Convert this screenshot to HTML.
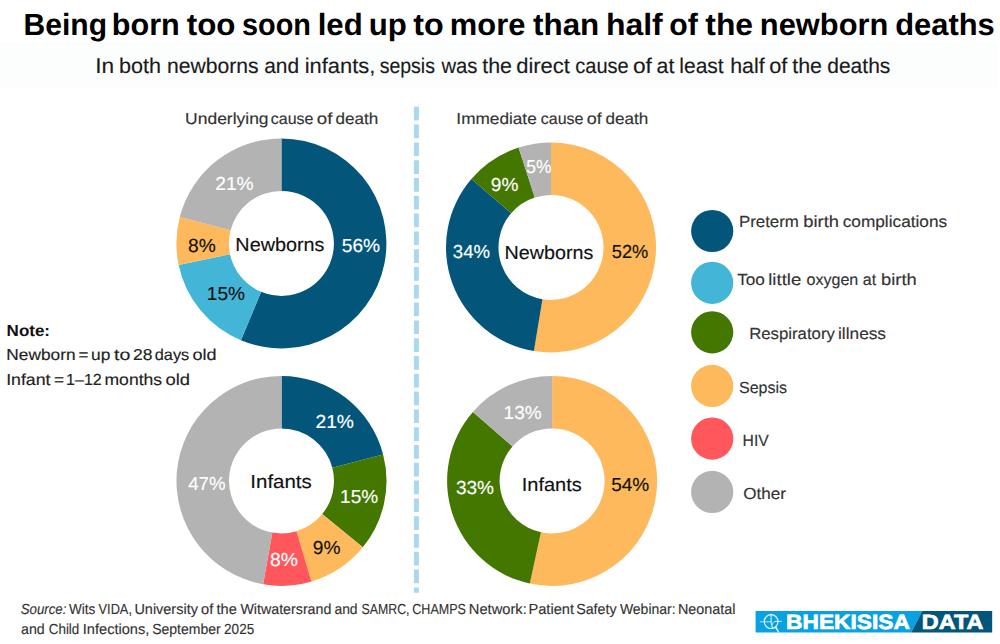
<!DOCTYPE html><html><head><meta charset="utf-8"><style>html,body{margin:0;padding:0;background:#fff;}svg{display:block;}</style></head><body>
<svg width="1000" height="644" viewBox="0 0 1000 644" style="font-family:'Liberation Sans', sans-serif;text-rendering:geometricPrecision">
<rect x="0" y="0" width="1000" height="644" fill="#ffffff"/>
<rect x="0" y="42" width="998" height="45" fill="#fcfdfd"/>
<line x1="416.4" y1="106.8" x2="416.4" y2="592.8" stroke="#a9d9ea" stroke-width="5" stroke-dasharray="13.7 4.1"/>
<path d="M281.40,138.40 A105.0,105.0 0 1 1 240.91,340.28 L261.16,291.84 A52.5,52.5 0 1 0 281.40,190.90 Z" fill="#03567a"/>
<path d="M240.91,340.28 A105.0,105.0 0 0 1 178.65,265.02 L230.02,254.21 A52.5,52.5 0 0 0 261.16,291.84 Z" fill="#43b6d7"/>
<path d="M178.65,265.02 A105.0,105.0 0 0 1 179.80,216.90 L230.60,230.15 A52.5,52.5 0 0 0 230.02,254.21 Z" fill="#fdb95b"/>
<path d="M179.80,216.90 A105.0,105.0 0 0 1 281.40,138.40 L281.40,190.90 A52.5,52.5 0 0 0 230.60,230.15 Z" fill="#b3b3b3"/>
<path d="M551.00,142.40 A105.0,105.0 0 1 1 533.92,351.00 L542.46,299.20 A52.5,52.5 0 1 0 551.00,194.90 Z" fill="#fdb95b"/>
<path d="M533.92,351.00 A105.0,105.0 0 0 1 471.37,178.96 L511.19,213.18 A52.5,52.5 0 0 0 542.46,299.20 Z" fill="#03567a"/>
<path d="M471.37,178.96 A105.0,105.0 0 0 1 518.55,147.54 L534.78,197.47 A52.5,52.5 0 0 0 511.19,213.18 Z" fill="#437700"/>
<path d="M518.55,147.54 A105.0,105.0 0 0 1 551.00,142.40 L551.00,194.90 A52.5,52.5 0 0 0 534.78,197.47 Z" fill="#b3b3b3"/>
<path d="M281.50,375.90 A105.0,105.0 0 0 1 383.14,454.53 L332.32,467.72 A52.5,52.5 0 0 0 281.50,428.40 Z" fill="#03567a"/>
<path d="M383.14,454.53 A105.0,105.0 0 0 1 362.82,547.32 L322.16,514.11 A52.5,52.5 0 0 0 332.32,467.72 Z" fill="#437700"/>
<path d="M362.82,547.32 A105.0,105.0 0 0 1 311.43,581.54 L296.46,531.22 A52.5,52.5 0 0 0 322.16,514.11 Z" fill="#fdb95b"/>
<path d="M311.43,581.54 A105.0,105.0 0 0 1 263.12,584.28 L272.31,532.59 A52.5,52.5 0 0 0 296.46,531.22 Z" fill="#ff575b"/>
<path d="M263.12,584.28 A105.0,105.0 0 0 1 281.50,375.90 L281.50,428.40 A52.5,52.5 0 0 0 272.31,532.59 Z" fill="#b3b3b3"/>
<path d="M552.10,375.90 A105.0,105.0 0 1 1 529.84,583.51 L540.97,532.21 A52.5,52.5 0 1 0 552.10,428.40 Z" fill="#fdb95b"/>
<path d="M529.84,583.51 A105.0,105.0 0 0 1 472.90,411.96 L512.50,446.43 A52.5,52.5 0 0 0 540.97,532.21 Z" fill="#437700"/>
<path d="M472.90,411.96 A105.0,105.0 0 0 1 552.10,375.90 L552.10,428.40 A52.5,52.5 0 0 0 512.50,446.43 Z" fill="#b3b3b3"/>
<circle cx="712.2" cy="231.0" r="21.1" fill="#03567a"/>
<circle cx="712.2" cy="282.85" r="21.1" fill="#43b6d7"/>
<circle cx="712.2" cy="332.3" r="21.1" fill="#437700"/>
<circle cx="712.2" cy="385.9" r="21.1" fill="#fdb95b"/>
<circle cx="712.2" cy="438.6" r="21.1" fill="#ff575b"/>
<circle cx="712.2" cy="491.9" r="21.1" fill="#b3b3b3"/>
<polygon points="755.6,611 922.3,611 911.2,632.5 755.6,632.5" fill="#08a1e2"/>
<polygon points="922.3,611 992.2,611 992.2,632.5 911.2,632.5" fill="#03567a"/>
<g fill="none" stroke="#ffffff" stroke-linecap="round">
<circle cx="771.1" cy="621.6" r="6.9" stroke-width="1.15" stroke-opacity="0.9"/>
<line x1="760.2" y1="621.8" x2="771" y2="621.8" stroke-width="1.0" stroke-opacity="0.7"/>
<line x1="776" y1="621.4" x2="781.7" y2="621.4" stroke-width="1.0" stroke-opacity="0.7"/>
<path d="M771.1,614.4 L771.1,622 C771.2,624.5 772.2,625 772.4,628.4" stroke-width="1.1" stroke-opacity="0.8"/>
<path d="M772.2,624.6 C772.6,622.2 774,621.4 776,621.4" stroke-width="1.0" stroke-opacity="0.7"/>
</g>
<polygon points="774.6,627.2 776.4,626.6 779.4,632.5 778.2,632.5" fill="#ffffff"/>

<text id="note" x="6.61" y="336.00" font-size="15.99" font-weight="bold" fill="#111111" style="" textLength="43.40" lengthAdjust="spacingAndGlyphs">Note:</text>
<text id="leg4" x="739.05" y="392.50" font-size="16.13" font-weight="normal" fill="#333333" stroke="#333333" stroke-width="0.15" style="" textLength="47.97" lengthAdjust="spacingAndGlyphs">Sepsis</text>
<text id="leg5" x="742.62" y="445.80" font-size="16.13" font-weight="normal" fill="#333333" stroke="#333333" stroke-width="0.15" style="" textLength="26.25" lengthAdjust="spacingAndGlyphs">HIV</text>
<text id="leg6" x="743.25" y="498.70" font-size="16.13" font-weight="normal" fill="#333333" stroke="#333333" stroke-width="0.15" style="" textLength="42.77" lengthAdjust="spacingAndGlyphs">Other</text>
<text id="d1a" x="341.81" y="252.00" font-size="18.90" font-weight="normal" fill="#ffffff" stroke="#ffffff" stroke-width="0.15" style="" textLength="38.37" lengthAdjust="spacingAndGlyphs">56%</text>
<text id="d1b" x="215.24" y="189.70" font-size="18.90" font-weight="normal" fill="#ffffff" stroke="#ffffff" stroke-width="0.15" style="" textLength="38.40" lengthAdjust="spacingAndGlyphs">21%</text>
<text id="d1c" x="188.11" y="251.90" font-size="18.90" font-weight="normal" fill="#111111" stroke="#111111" stroke-width="0.15" style="" textLength="27.72" lengthAdjust="spacingAndGlyphs">8%</text>
<text id="d1d" x="206.86" y="299.50" font-size="18.90" font-weight="normal" fill="#111111" stroke="#111111" stroke-width="0.15" style="" textLength="38.22" lengthAdjust="spacingAndGlyphs">15%</text>
<text id="d1n" x="235.37" y="251.00" font-size="18.90" font-weight="normal" fill="#111111" stroke="#111111" stroke-width="0.15" style="" textLength="89.15" lengthAdjust="spacingAndGlyphs">Newborns</text>
<text id="d2a" x="526.21" y="173.00" font-size="18.90" font-weight="normal" fill="#ffffff" stroke="#ffffff" stroke-width="0.15" style="" textLength="25.21" lengthAdjust="spacingAndGlyphs">5%</text>
<text id="d2b" x="490.88" y="190.60" font-size="18.90" font-weight="normal" fill="#ffffff" stroke="#ffffff" stroke-width="0.15" style="" textLength="27.61" lengthAdjust="spacingAndGlyphs">9%</text>
<text id="d2c" x="452.80" y="257.70" font-size="18.90" font-weight="normal" fill="#ffffff" stroke="#ffffff" stroke-width="0.15" style="" textLength="37.23" lengthAdjust="spacingAndGlyphs">34%</text>
<text id="d2n" x="504.54" y="258.80" font-size="18.90" font-weight="normal" fill="#111111" stroke="#111111" stroke-width="0.15" style="" textLength="88.75" lengthAdjust="spacingAndGlyphs">Newborns</text>
<text id="d2d" x="611.84" y="257.70" font-size="18.90" font-weight="normal" fill="#111111" stroke="#111111" stroke-width="0.15" style="" textLength="36.48" lengthAdjust="spacingAndGlyphs">52%</text>
<text id="d3a" x="315.43" y="428.00" font-size="18.90" font-weight="normal" fill="#ffffff" stroke="#ffffff" stroke-width="0.15" style="" textLength="38.53" lengthAdjust="spacingAndGlyphs">21%</text>
<text id="d3b" x="188.15" y="490.00" font-size="18.90" font-weight="normal" fill="#ffffff" stroke="#ffffff" stroke-width="0.15" style="" textLength="37.38" lengthAdjust="spacingAndGlyphs">47%</text>
<text id="d3n" x="250.32" y="488.00" font-size="18.90" font-weight="normal" fill="#111111" stroke="#111111" stroke-width="0.15" style="" textLength="61.47" lengthAdjust="spacingAndGlyphs">Infants</text>
<text id="d3c" x="340.13" y="502.60" font-size="18.90" font-weight="normal" fill="#ffffff" stroke="#ffffff" stroke-width="0.15" style="" textLength="38.03" lengthAdjust="spacingAndGlyphs">15%</text>
<text id="d3d" x="312.83" y="553.90" font-size="18.90" font-weight="normal" fill="#111111" stroke="#111111" stroke-width="0.15" style="" textLength="27.72" lengthAdjust="spacingAndGlyphs">9%</text>
<text id="d3e" x="270.10" y="565.70" font-size="18.90" font-weight="normal" fill="#ffffff" stroke="#ffffff" stroke-width="0.15" style="" textLength="27.95" lengthAdjust="spacingAndGlyphs">8%</text>
<text id="d4a" x="503.63" y="419.10" font-size="18.90" font-weight="normal" fill="#ffffff" stroke="#ffffff" stroke-width="0.15" style="" textLength="37.91" lengthAdjust="spacingAndGlyphs">13%</text>
<text id="d4b" x="455.91" y="493.50" font-size="18.90" font-weight="normal" fill="#ffffff" stroke="#ffffff" stroke-width="0.15" style="" textLength="38.12" lengthAdjust="spacingAndGlyphs">33%</text>
<text id="d4n" x="521.70" y="491.20" font-size="18.90" font-weight="normal" fill="#111111" stroke="#111111" stroke-width="0.15" style="" textLength="60.10" lengthAdjust="spacingAndGlyphs">Infants</text>
<text id="d4c" x="611.15" y="491.20" font-size="18.90" font-weight="normal" fill="#111111" stroke="#111111" stroke-width="0.15" style="" textLength="38.11" lengthAdjust="spacingAndGlyphs">54%</text>
<text id="logo1" x="786.07" y="629.25" font-size="20.64" font-weight="bold" fill="#ffffff" stroke="#ffffff" stroke-width="0.7" style="" textLength="123.90" lengthAdjust="spacingAndGlyphs">BHEKISISA</text>
<text id="logo2" x="921.89" y="629.25" font-size="20.64" font-weight="bold" fill="#ffffff" stroke="#ffffff" stroke-width="0.7" style="" textLength="61.48" lengthAdjust="spacingAndGlyphs">DATA</text>
<text id="title_0" x="23.58" y="35.10" font-size="30.67" font-weight="bold" fill="#000000" style="" textLength="83.49" lengthAdjust="spacingAndGlyphs">Being</text>
<text id="title_1" x="111.81" y="35.10" font-size="30.67" font-weight="bold" fill="#000000" style="" textLength="68.00" lengthAdjust="spacingAndGlyphs">born</text>
<text id="title_2" x="186.74" y="35.10" font-size="30.67" font-weight="bold" fill="#000000" style="" textLength="48.75" lengthAdjust="spacingAndGlyphs">too</text>
<text id="title_3" x="242.06" y="35.10" font-size="30.67" font-weight="bold" fill="#000000" style="" textLength="68.95" lengthAdjust="spacingAndGlyphs">soon</text>
<text id="title_4" x="317.71" y="35.10" font-size="30.67" font-weight="bold" fill="#000000" style="" textLength="44.98" lengthAdjust="spacingAndGlyphs">led</text>
<text id="title_5" x="368.65" y="35.10" font-size="30.67" font-weight="bold" fill="#000000" style="" textLength="38.15" lengthAdjust="spacingAndGlyphs">up</text>
<text id="title_6" x="413.31" y="35.10" font-size="30.67" font-weight="bold" fill="#000000" style="" textLength="30.47" lengthAdjust="spacingAndGlyphs">to</text>
<text id="title_7" x="449.88" y="35.10" font-size="30.67" font-weight="bold" fill="#000000" style="" textLength="75.51" lengthAdjust="spacingAndGlyphs">more</text>
<text id="title_8" x="533.05" y="35.10" font-size="30.67" font-weight="bold" fill="#000000" style="" textLength="66.22" lengthAdjust="spacingAndGlyphs">than</text>
<text id="title_9" x="605.95" y="35.10" font-size="30.67" font-weight="bold" fill="#000000" style="" textLength="56.82" lengthAdjust="spacingAndGlyphs">half</text>
<text id="title_10" x="669.34" y="35.10" font-size="30.67" font-weight="bold" fill="#000000" style="" textLength="28.52" lengthAdjust="spacingAndGlyphs">of</text>
<text id="title_11" x="705.29" y="35.10" font-size="30.67" font-weight="bold" fill="#000000" style="" textLength="47.73" lengthAdjust="spacingAndGlyphs">the</text>
<text id="title_12" x="759.89" y="35.10" font-size="30.67" font-weight="bold" fill="#000000" style="" textLength="128.50" lengthAdjust="spacingAndGlyphs">newborn</text>
<text id="title_13" x="895.19" y="35.10" font-size="30.67" font-weight="bold" fill="#000000" style="" textLength="99.58" lengthAdjust="spacingAndGlyphs">deaths</text>
<text id="sub_0" x="95.29" y="72.80" font-size="21.37" font-weight="normal" fill="#1a1a1a" stroke="#1a1a1a" stroke-width="0.15" style="" textLength="18.94" lengthAdjust="spacingAndGlyphs">In</text>
<text id="sub_1" x="118.92" y="72.80" font-size="21.37" font-weight="normal" fill="#1a1a1a" stroke="#1a1a1a" stroke-width="0.15" style="" textLength="42.07" lengthAdjust="spacingAndGlyphs">both</text>
<text id="sub_2" x="167.07" y="72.80" font-size="21.37" font-weight="normal" fill="#1a1a1a" stroke="#1a1a1a" stroke-width="0.15" style="" textLength="91.62" lengthAdjust="spacingAndGlyphs">newborns</text>
<text id="sub_3" x="264.21" y="72.80" font-size="21.37" font-weight="normal" fill="#1a1a1a" stroke="#1a1a1a" stroke-width="0.15" style="" textLength="34.93" lengthAdjust="spacingAndGlyphs">and</text>
<text id="sub_4" x="304.73" y="72.80" font-size="21.37" font-weight="normal" fill="#1a1a1a" stroke="#1a1a1a" stroke-width="0.15" style="" textLength="70.65" lengthAdjust="spacingAndGlyphs">infants,</text>
<text id="sub_5" x="379.64" y="72.80" font-size="21.37" font-weight="normal" fill="#1a1a1a" stroke="#1a1a1a" stroke-width="0.15" style="" textLength="55.35" lengthAdjust="spacingAndGlyphs">sepsis</text>
<text id="sub_6" x="441.41" y="72.80" font-size="21.37" font-weight="normal" fill="#1a1a1a" stroke="#1a1a1a" stroke-width="0.15" style="" textLength="36.04" lengthAdjust="spacingAndGlyphs">was</text>
<text id="sub_7" x="482.21" y="72.80" font-size="21.37" font-weight="normal" fill="#1a1a1a" stroke="#1a1a1a" stroke-width="0.15" style="" textLength="29.79" lengthAdjust="spacingAndGlyphs">the</text>
<text id="sub_8" x="516.17" y="72.80" font-size="21.37" font-weight="normal" fill="#1a1a1a" stroke="#1a1a1a" stroke-width="0.15" style="" textLength="53.78" lengthAdjust="spacingAndGlyphs">direct</text>
<text id="sub_9" x="575.30" y="72.80" font-size="21.37" font-weight="normal" fill="#1a1a1a" stroke="#1a1a1a" stroke-width="0.15" style="" textLength="53.47" lengthAdjust="spacingAndGlyphs">cause</text>
<text id="sub_10" x="632.93" y="72.80" font-size="21.37" font-weight="normal" fill="#1a1a1a" stroke="#1a1a1a" stroke-width="0.15" style="" textLength="18.97" lengthAdjust="spacingAndGlyphs">of</text>
<text id="sub_11" x="656.55" y="72.80" font-size="21.37" font-weight="normal" fill="#1a1a1a" stroke="#1a1a1a" stroke-width="0.15" style="" textLength="17.82" lengthAdjust="spacingAndGlyphs">at</text>
<text id="sub_12" x="679.27" y="72.80" font-size="21.37" font-weight="normal" fill="#1a1a1a" stroke="#1a1a1a" stroke-width="0.15" style="" textLength="44.45" lengthAdjust="spacingAndGlyphs">least</text>
<text id="sub_13" x="730.14" y="72.80" font-size="21.37" font-weight="normal" fill="#1a1a1a" stroke="#1a1a1a" stroke-width="0.15" style="" textLength="34.45" lengthAdjust="spacingAndGlyphs">half</text>
<text id="sub_14" x="769.21" y="72.80" font-size="21.37" font-weight="normal" fill="#1a1a1a" stroke="#1a1a1a" stroke-width="0.15" style="" textLength="18.16" lengthAdjust="spacingAndGlyphs">of</text>
<text id="sub_15" x="792.21" y="72.80" font-size="21.37" font-weight="normal" fill="#1a1a1a" stroke="#1a1a1a" stroke-width="0.15" style="" textLength="29.79" lengthAdjust="spacingAndGlyphs">the</text>
<text id="sub_16" x="827.25" y="72.80" font-size="21.37" font-weight="normal" fill="#1a1a1a" stroke="#1a1a1a" stroke-width="0.15" style="" textLength="63.10" lengthAdjust="spacingAndGlyphs">deaths</text>
<text id="hdr1_0" x="185.12" y="123.80" font-size="15.99" font-weight="normal" fill="#333333" stroke="#333333" stroke-width="0.15" style="" textLength="83.49" lengthAdjust="spacingAndGlyphs">Underlying</text>
<text id="hdr1_1" x="270.84" y="123.80" font-size="15.99" font-weight="normal" fill="#333333" stroke="#333333" stroke-width="0.15" style="" textLength="42.56" lengthAdjust="spacingAndGlyphs">cause</text>
<text id="hdr1_2" x="316.78" y="123.80" font-size="15.99" font-weight="normal" fill="#333333" stroke="#333333" stroke-width="0.15" style="" textLength="15.58" lengthAdjust="spacingAndGlyphs">of</text>
<text id="hdr1_3" x="335.59" y="123.80" font-size="15.99" font-weight="normal" fill="#333333" stroke="#333333" stroke-width="0.15" style="" textLength="42.79" lengthAdjust="spacingAndGlyphs">death</text>
<text id="hdr2_0" x="456.37" y="123.80" font-size="15.99" font-weight="normal" fill="#333333" stroke="#333333" stroke-width="0.15" style="" textLength="80.37" lengthAdjust="spacingAndGlyphs">Immediate</text>
<text id="hdr2_1" x="540.78" y="123.80" font-size="15.99" font-weight="normal" fill="#333333" stroke="#333333" stroke-width="0.15" style="" textLength="42.60" lengthAdjust="spacingAndGlyphs">cause</text>
<text id="hdr2_2" x="586.80" y="123.80" font-size="15.99" font-weight="normal" fill="#333333" stroke="#333333" stroke-width="0.15" style="" textLength="15.01" lengthAdjust="spacingAndGlyphs">of</text>
<text id="hdr2_3" x="605.59" y="123.80" font-size="15.99" font-weight="normal" fill="#333333" stroke="#333333" stroke-width="0.15" style="" textLength="42.79" lengthAdjust="spacingAndGlyphs">death</text>
<text id="note1_0" x="6.39" y="359.80" font-size="15.84" font-weight="normal" fill="#222222" stroke="#222222" stroke-width="0.15" style="" textLength="69.12" lengthAdjust="spacingAndGlyphs">Newborn</text>
<text id="note1_1" x="78.54" y="359.80" font-size="15.84" font-weight="normal" fill="#222222" stroke="#222222" stroke-width="0.15" style="" textLength="9.96" lengthAdjust="spacingAndGlyphs">=</text>
<text id="note1_2" x="91.01" y="359.80" font-size="15.84" font-weight="normal" fill="#222222" stroke="#222222" stroke-width="0.15" style="" textLength="19.31" lengthAdjust="spacingAndGlyphs">up</text>
<text id="note1_3" x="114.08" y="359.80" font-size="15.84" font-weight="normal" fill="#222222" stroke="#222222" stroke-width="0.15" style="" textLength="16.29" lengthAdjust="spacingAndGlyphs">to</text>
<text id="note1_4" x="133.10" y="359.80" font-size="15.84" font-weight="normal" fill="#222222" stroke="#222222" stroke-width="0.15" style="" textLength="19.42" lengthAdjust="spacingAndGlyphs">28</text>
<text id="note1_5" x="154.76" y="359.80" font-size="15.84" font-weight="normal" fill="#222222" stroke="#222222" stroke-width="0.15" style="" textLength="34.48" lengthAdjust="spacingAndGlyphs">days</text>
<text id="note1_6" x="192.56" y="359.80" font-size="15.84" font-weight="normal" fill="#222222" stroke="#222222" stroke-width="0.15" style="" textLength="24.06" lengthAdjust="spacingAndGlyphs">old</text>
<text id="note2_0" x="6.15" y="384.80" font-size="15.99" font-weight="normal" fill="#222222" stroke="#222222" stroke-width="0.15" style="" textLength="44.37" lengthAdjust="spacingAndGlyphs">Infant</text>
<text id="note2_1" x="54.03" y="384.80" font-size="15.99" font-weight="normal" fill="#222222" stroke="#222222" stroke-width="0.15" style="" textLength="10.09" lengthAdjust="spacingAndGlyphs">=</text>
<text id="note2_2" x="66.09" y="384.80" font-size="15.99" font-weight="normal" fill="#222222" stroke="#222222" stroke-width="0.15" style="" textLength="35.64" lengthAdjust="spacingAndGlyphs">1–12</text>
<text id="note2_3" x="104.48" y="384.80" font-size="15.99" font-weight="normal" fill="#222222" stroke="#222222" stroke-width="0.15" style="" textLength="57.65" lengthAdjust="spacingAndGlyphs">months</text>
<text id="note2_4" x="165.56" y="384.80" font-size="15.99" font-weight="normal" fill="#222222" stroke="#222222" stroke-width="0.15" style="" textLength="24.55" lengthAdjust="spacingAndGlyphs">old</text>
<text id="leg1_0" x="738.96" y="227.00" font-size="16.13" font-weight="normal" fill="#333333" stroke="#333333" stroke-width="0.15" style="" textLength="59.92" lengthAdjust="spacingAndGlyphs">Preterm</text>
<text id="leg1_1" x="803.33" y="227.00" font-size="16.13" font-weight="normal" fill="#333333" stroke="#333333" stroke-width="0.15" style="" textLength="35.73" lengthAdjust="spacingAndGlyphs">birth</text>
<text id="leg1_2" x="842.69" y="227.00" font-size="16.13" font-weight="normal" fill="#333333" stroke="#333333" stroke-width="0.15" style="" textLength="104.45" lengthAdjust="spacingAndGlyphs">complications</text>
<text id="leg2_0" x="737.15" y="284.70" font-size="16.13" font-weight="normal" fill="#333333" stroke="#333333" stroke-width="0.15" style="" textLength="27.75" lengthAdjust="spacingAndGlyphs">Too</text>
<text id="leg2_1" x="768.26" y="284.70" font-size="16.13" font-weight="normal" fill="#333333" stroke="#333333" stroke-width="0.15" style="" textLength="32.98" lengthAdjust="spacingAndGlyphs">little</text>
<text id="leg2_2" x="806.46" y="284.70" font-size="16.13" font-weight="normal" fill="#333333" stroke="#333333" stroke-width="0.15" style="" textLength="51.86" lengthAdjust="spacingAndGlyphs">oxygen</text>
<text id="leg2_3" x="862.75" y="284.70" font-size="16.13" font-weight="normal" fill="#333333" stroke="#333333" stroke-width="0.15" style="" textLength="13.35" lengthAdjust="spacingAndGlyphs">at</text>
<text id="leg2_4" x="880.98" y="284.70" font-size="16.13" font-weight="normal" fill="#333333" stroke="#333333" stroke-width="0.15" style="" textLength="35.76" lengthAdjust="spacingAndGlyphs">birth</text>
<text id="leg3_0" x="749.15" y="338.90" font-size="16.13" font-weight="normal" fill="#333333" stroke="#333333" stroke-width="0.15" style="" textLength="85.76" lengthAdjust="spacingAndGlyphs">Respiratory</text>
<text id="leg3_1" x="838.02" y="338.90" font-size="16.13" font-weight="normal" fill="#333333" stroke="#333333" stroke-width="0.15" style="" textLength="47.98" lengthAdjust="spacingAndGlyphs">illness</text>
<text id="src1_0" x="20.67" y="613.80" font-size="14.61" font-weight="normal" fill="#333333" stroke="#333333" stroke-width="0.15" style="font-style:italic;" textLength="45.75" lengthAdjust="spacingAndGlyphs">Source:</text>
<text id="src1_1" x="68.95" y="613.80" font-size="14.61" font-weight="normal" fill="#333333" stroke="#333333" stroke-width="0.15" style="" textLength="26.36" lengthAdjust="spacingAndGlyphs">Wits</text>
<text id="src1_2" x="98.58" y="613.80" font-size="14.61" font-weight="normal" fill="#333333" stroke="#333333" stroke-width="0.15" style="" textLength="33.37" lengthAdjust="spacingAndGlyphs">VIDA,</text>
<text id="src1_3" x="134.40" y="613.80" font-size="14.61" font-weight="normal" fill="#333333" stroke="#333333" stroke-width="0.15" style="" textLength="63.51" lengthAdjust="spacingAndGlyphs">University</text>
<text id="src1_4" x="201.12" y="613.80" font-size="14.61" font-weight="normal" fill="#333333" stroke="#333333" stroke-width="0.15" style="" textLength="12.17" lengthAdjust="spacingAndGlyphs">of</text>
<text id="src1_5" x="216.53" y="613.80" font-size="14.61" font-weight="normal" fill="#333333" stroke="#333333" stroke-width="0.15" style="" textLength="20.34" lengthAdjust="spacingAndGlyphs">the</text>
<text id="src1_6" x="240.42" y="613.80" font-size="14.61" font-weight="normal" fill="#333333" stroke="#333333" stroke-width="0.15" style="" textLength="90.97" lengthAdjust="spacingAndGlyphs">Witwatersrand</text>
<text id="src1_7" x="334.43" y="613.80" font-size="14.61" font-weight="normal" fill="#333333" stroke="#333333" stroke-width="0.15" style="" textLength="23.18" lengthAdjust="spacingAndGlyphs">and</text>
<text id="src1_8" x="361.53" y="613.80" font-size="14.61" font-weight="normal" fill="#333333" stroke="#333333" stroke-width="0.15" style="" textLength="48.01" lengthAdjust="spacingAndGlyphs">SAMRC,</text>
<text id="src1_9" x="412.30" y="613.80" font-size="14.61" font-weight="normal" fill="#333333" stroke="#333333" stroke-width="0.15" style="" textLength="53.65" lengthAdjust="spacingAndGlyphs">CHAMPS</text>
<text id="src1_10" x="468.88" y="613.80" font-size="14.61" font-weight="normal" fill="#333333" stroke="#333333" stroke-width="0.15" style="" textLength="57.83" lengthAdjust="spacingAndGlyphs">Network:</text>
<text id="src1_11" x="528.43" y="613.80" font-size="14.61" font-weight="normal" fill="#333333" stroke="#333333" stroke-width="0.15" style="" textLength="45.59" lengthAdjust="spacingAndGlyphs">Patient</text>
<text id="src1_12" x="576.14" y="613.80" font-size="14.61" font-weight="normal" fill="#333333" stroke="#333333" stroke-width="0.15" style="" textLength="40.49" lengthAdjust="spacingAndGlyphs">Safety</text>
<text id="src1_13" x="619.92" y="613.80" font-size="14.61" font-weight="normal" fill="#333333" stroke="#333333" stroke-width="0.15" style="" textLength="55.69" lengthAdjust="spacingAndGlyphs">Webinar:</text>
<text id="src1_14" x="677.99" y="613.80" font-size="14.61" font-weight="normal" fill="#333333" stroke="#333333" stroke-width="0.15" style="" textLength="57.44" lengthAdjust="spacingAndGlyphs">Neonatal</text>
<text id="src2_0" x="21.03" y="634.30" font-size="14.61" font-weight="normal" fill="#333333" stroke="#333333" stroke-width="0.15" style="" textLength="23.71" lengthAdjust="spacingAndGlyphs">and</text>
<text id="src2_1" x="48.73" y="634.30" font-size="14.61" font-weight="normal" fill="#333333" stroke="#333333" stroke-width="0.15" style="" textLength="30.60" lengthAdjust="spacingAndGlyphs">Child</text>
<text id="src2_2" x="82.82" y="634.30" font-size="14.61" font-weight="normal" fill="#333333" stroke="#333333" stroke-width="0.15" style="" textLength="66.47" lengthAdjust="spacingAndGlyphs">Infections,</text>
<text id="src2_3" x="152.16" y="634.30" font-size="14.61" font-weight="normal" fill="#333333" stroke="#333333" stroke-width="0.15" style="" textLength="68.60" lengthAdjust="spacingAndGlyphs">September</text>
<text id="src2_4" x="224.11" y="634.30" font-size="14.61" font-weight="normal" fill="#333333" stroke="#333333" stroke-width="0.15" style="" textLength="30.06" lengthAdjust="spacingAndGlyphs">2025</text>
</svg></body></html>
